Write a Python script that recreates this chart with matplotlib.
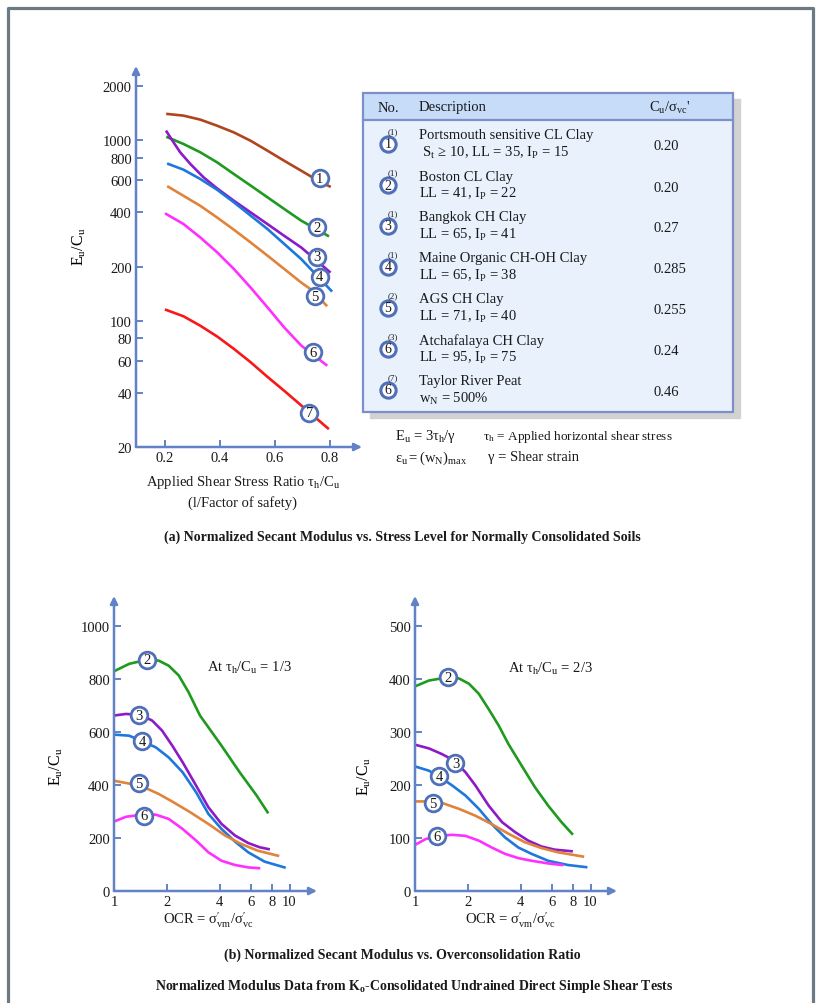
import numpy as np
import matplotlib.pyplot as plt
from matplotlib.patches import Rectangle

plt.rcParams['font.family'] = ['Liberation Serif', 'DejaVu Serif']
plt.rcParams['mathtext.fontset'] = 'stix'

# ---- data (a): Eu/Cu vs tau_h/Cu, normally consolidated ----
ratio_1 = [0.209, 0.267, 0.328, 0.389, 0.45, 0.511, 0.572, 0.633, 0.695, 0.756, 0.798]
eu_1 = [1400, 1371, 1303, 1206, 1107, 995, 877, 771, 679, 598, 556]
ratio_2 = [0.209, 0.267, 0.328, 0.389, 0.45, 0.511, 0.572, 0.633, 0.695, 0.792]
eu_2 = [1040, 955, 859, 756, 651, 562, 484, 417, 359, 296]
ratio_3 = [0.206, 0.231, 0.255, 0.292, 0.34, 0.389, 0.45, 0.511, 0.572, 0.633, 0.695, 0.798]
eu_3 = [1117, 975, 859, 740, 624, 542, 463, 399, 344, 296, 255, 187]
ratio_4 = [0.212, 0.267, 0.328, 0.389, 0.45, 0.511, 0.572, 0.633, 0.695, 0.804]
eu_4 = [740, 688, 611, 533, 454, 383, 323, 267, 220, 147]
ratio_5 = [0.212, 0.267, 0.328, 0.389, 0.45, 0.511, 0.572, 0.633, 0.695, 0.731, 0.786]
eu_5 = [553, 493, 434, 374, 320, 272, 230, 194, 163, 149, 122]
ratio_6 = [0.204, 0.267, 0.328, 0.389, 0.45, 0.511, 0.572, 0.633, 0.695, 0.786]
eu_6 = [391, 344, 290, 240, 194, 153, 119, 92, 73, 57]
ratio_7 = [0.204, 0.267, 0.328, 0.389, 0.45, 0.511, 0.572, 0.633, 0.695, 0.792]
eu_7 = [115, 106, 94, 82, 70, 59, 49, 41, 34, 25.4]
curves_a = [(ratio_1, eu_1), (ratio_2, eu_2), (ratio_3, eu_3), (ratio_4, eu_4),
            (ratio_5, eu_5), (ratio_6, eu_6), (ratio_7, eu_7)]
colors_a = ['#b0441c', '#1e9a1e', '#8c1ac8', '#1e78dc', '#e0843c', '#ff30ff', '#f81818']
lab_a_x = [0.762, 0.753, 0.752, 0.762, 0.746, 0.737, 0.725]
lab_a_y = [618, 330, 227, 176, 137, 67, 31]

# ---- data (b): Eu/Cu vs OCR ----
ocr_l2 = [1.0, 1.22, 1.55, 1.8, 2.05, 2.34, 2.66, 3.09, 4.1, 5.2, 6.5, 7.5]
eu_l2 = [829, 857, 873, 869, 850, 813, 750, 662, 548, 448, 360, 297]
ocr_l3 = [1.0, 1.17, 1.42, 1.65, 1.88, 2.15, 2.46, 2.94, 3.45, 4.1, 4.9, 5.82, 6.76, 7.6]
eu_l3 = [662, 668, 664, 643, 605, 548, 486, 397, 316, 253, 209, 181, 165, 158]
ocr_l4 = [1.0, 1.22, 1.45, 1.73, 2.05, 2.46, 2.94, 3.45, 4.1, 4.9, 5.82, 7.2, 9.36]
eu_l4 = [590, 586, 565, 542, 504, 448, 372, 291, 234, 186, 146, 111, 89]
ocr_l5 = [1.0, 1.42, 1.8, 2.18, 2.72, 3.45, 4.3, 5.32, 6.6, 8.6]
eu_l5 = [416, 397, 366, 335, 297, 253, 209, 177, 152, 133]
ocr_l6 = [1.0, 1.17, 1.45, 1.73, 2.05, 2.46, 2.94, 3.45, 4.1, 4.9, 5.82, 6.7]
eu_l6 = [262, 280, 288, 288, 272, 234, 190, 146, 114, 98, 89, 86]

ocr_r2 = [1.0, 1.2, 1.53, 1.78, 2.03, 2.31, 2.63, 3.0, 3.41, 4.06, 4.82, 5.74, 6.83, 7.85]
eu_r2 = [386, 397, 403, 401, 391, 372, 343, 312, 277, 236, 196, 161, 130, 108]
ocr_r3 = [1.0, 1.2, 1.43, 1.67, 1.94, 2.21, 2.63, 3.13, 3.72, 4.42, 5.25, 6.25, 7.8]
eu_r3 = [276, 269, 258, 246, 224, 199, 161, 130, 111, 95, 84, 78, 75]
ocr_r4 = [1.0, 1.2, 1.4, 1.63, 1.94, 2.31, 2.74, 3.26, 3.88, 4.62, 5.74, 7.45, 9.44]
eu_r4 = [235, 227, 214, 199, 180, 155, 126, 101, 82, 70, 57, 49, 45]
ocr_r5 = [1.0, 1.2, 1.43, 1.78, 2.21, 2.74, 3.41, 4.23, 5.25, 6.53, 9.05]
eu_r5 = [169, 169, 166, 155, 142, 126, 108, 92, 81, 73, 65]
ocr_r6 = [1.0, 1.15, 1.37, 1.63, 1.94, 2.31, 2.74, 3.26, 3.88, 4.62, 5.74, 6.88]
eu_r6 = [87, 98, 104, 106, 104, 95, 82, 70, 62, 57, 52, 49]

colors_b = ['#1e9a1e', '#8c1ac8', '#1e78dc', '#e0843c', '#ff30ff']
nums_b = ['2', '3', '4', '5', '6']
curves_l = [(ocr_l2, eu_l2), (ocr_l3, eu_l3), (ocr_l4, eu_l4), (ocr_l5, eu_l5), (ocr_l6, eu_l6)]
lab_l_x = [1.55, 1.39, 1.45, 1.39, 1.48]
lab_l_y = [873, 664, 565, 406, 284]
curves_r = [(ocr_r2, eu_r2), (ocr_r3, eu_r3), (ocr_r4, eu_r4), (ocr_r5, eu_r5), (ocr_r6, eu_r6)]
lab_r_x = [1.55, 1.70, 1.37, 1.27, 1.34]
lab_r_y = [403, 241, 216, 166, 103]

# ---- table ----
tbl_nums = ['1', '2', '3', '4', '5', '6', '6']
tbl_refs = ['(1)', '(1)', '(1)', '(1)', '(2)', '(3)', '(7)']
tbl_line1 = ['Portsmouth sensitive CL Clay', 'Boston CL Clay', 'Bangkok CH Clay',
             'Maine Organic CH-OH Clay', 'AGS CH Clay', 'Atchafalaya CH Clay', 'Taylor River Peat']
tbl_line2 = [r' $\mathregular{S_t}$ ≥ 10, LL = 35, $\mathregular{I_P}$ = 15',
             r'LL = 41, $\mathregular{I_P}$ = 22', r'LL = 65, $\mathregular{I_P}$ = 41',
             r'LL = 65, $\mathregular{I_P}$ = 38', r'LL = 71, $\mathregular{I_P}$ = 40',
             r'LL = 95, $\mathregular{I_P}$ = 75', r'$\mathregular{w_N}$ = 500%']
tbl_cu = ['0.20', '0.20', '0.27', '0.285', '0.255', '0.24', '0.46']

AX = '#6282c6'
CIRC = '#4f6fb8'
TXT = '#1a1a1a'
W, H = 816, 1004

fig = plt.figure(figsize=(8.16, 10.04), dpi=100)


def box(l, t, r, b):
    return [l / W, 1 - b / H, (r - l) / W, (b - t) / H]


bg = fig.add_axes([0, 0, 1, 1])
bg.set_xlim(0, W)
bg.set_ylim(H, 0)
bg.axis('off')
bg.plot([7.5, 7.5, 812.5, 812.5], [H + 5, 8.5, 8.5, H + 5], color='#6e7a82', lw=2.3)


def style(ax):
    for s in ax.spines.values():
        s.set_visible(False)
    ax.patch.set_alpha(0)
    ax.annotate('', xy=(0, 1), xytext=(0, 0), xycoords='axes fraction', annotation_clip=False,
                arrowprops=dict(arrowstyle='-|>', color=AX, lw=1.8, mutation_scale=11, shrinkA=0, shrinkB=0))
    ax.annotate('', xy=(1, 0), xytext=(0, 0), xycoords='axes fraction', annotation_clip=False,
                arrowprops=dict(arrowstyle='-|>', color=AX, lw=1.8, mutation_scale=11, shrinkA=0, shrinkB=0))
    ax.tick_params(direction='in', color=AX, width=1.4, length=5, labelsize=10.5,
                   labelcolor=TXT, pad=3)
    ax.minorticks_off()


def circ(ax, x, y, n, ms=12):
    ax.plot(x, y, 'o', ms=ms, mfc='white', mec=CIRC, mew=2, zorder=5, clip_on=False)
    ax.text(x, y, n, ha='center', va='center', fontsize=10.5, color=TXT, zorder=6)


# ---- (a) ----
ax1 = fig.add_axes(box(136, 67, 362, 448))
ax1.set_yscale('log')
ax1.set_xlim(0.0945, 0.916)
ax1.set_ylim(20, 2582)
style(ax1)
ax1.set_yticks([20, 40, 60, 80, 100, 200, 400, 600, 800, 1000, 2000])
ax1.set_yticklabels(['20', '40', '60', '80', '100', '200', '400', '600', '800', '1000', '2000'])
ax1.minorticks_off()
ax1.set_xticks([0.2, 0.4, 0.6, 0.8])
ax1.set_xticklabels(['0.2', '0.4', '0.6', '0.8'])
for (x, y), c in zip(curves_a, colors_a):
    ax1.plot(x, y, color=c, lw=1.9)
for i in range(7):
    circ(ax1, lab_a_x[i], lab_a_y[i], str(i + 1))
ax1.set_ylabel(r'$\mathregular{E_u/C_u}$', fontsize=11.5)
ax1.yaxis.set_label_coords((88 - 136) / 226, (448 - 247) / 381)
bg.text(243, 483, r'Applied Shear Stress Ratio $\mathregular{τ_h/C_u}$', ha='center', va='center',
        fontsize=10.5, color=TXT)
bg.text(243, 503, '(l/Factor of safety)', ha='center', va='center', fontsize=10.5, color=TXT)

# table
bg.add_patch(Rectangle((370, 100), 370, 319, color='#d2d2d2', zorder=1))
bg.add_patch(Rectangle((363, 121), 370, 292, facecolor='#e8f1fc', edgecolor='none', zorder=2))
bg.add_patch(Rectangle((363, 94), 370, 27, facecolor='#c6dcf8', edgecolor='none', zorder=2))
bg.add_patch(Rectangle((363, 94), 370, 319, fill=False, edgecolor='#7d8ec8', lw=1.6, zorder=3))
bg.plot([363, 733], [121, 121], color='#7d8ec8', lw=1.6, zorder=3)
bg.text(378, 109, 'No.', va='center', fontsize=10.5, color=TXT, zorder=4)
bg.text(419, 108, 'Description', va='center', fontsize=10.5, color=TXT, zorder=4)
bg.text(649, 108, r"$\mathregular{C_u/σ_{vc}}$'", va='center', fontsize=10.5, color=TXT, zorder=4)
for i in range(7):
    yc = 145 + 41 * i
    bg.plot(388, yc, 'o', ms=11, mfc='white', mec=CIRC, mew=2.2, zorder=4)
    bg.text(388, yc, tbl_nums[i], ha='center', va='center', fontsize=10, color=TXT, zorder=5)
    bg.text(393, yc - 13, tbl_refs[i], ha='center', va='center', fontsize=6.5, color=TXT, zorder=5)
    bg.text(419, yc - 9, tbl_line1[i], va='center', fontsize=10.5, color=TXT, zorder=4)
    bg.text(419, yc + 8, tbl_line2[i], va='center', fontsize=10.5, color=TXT, zorder=4)
    bg.text(653, yc + 2, tbl_cu[i], va='center', fontsize=10.5, color=TXT, zorder=4)

bg.text(395, 437, r'$\mathregular{E_u}$ = 3$\mathregular{τ_h}$/γ', va='center', fontsize=10.5, color=TXT)
bg.text(483, 437, r'$\mathregular{τ_h}$ = Applied horizontal shear stress', va='center', fontsize=9.5, color=TXT)
bg.text(395, 458, r'$\mathregular{ε_u = (w_N)_{max}}$', va='center', fontsize=10.5, color=TXT)
bg.text(488, 458, 'γ = Shear strain', va='center', fontsize=10.5, color=TXT)

bg.text(402, 537, '(a) Normalized Secant Modulus vs. Stress Level for Normally Consolidated Soils',
        ha='center', va='center', fontsize=10, fontweight='bold', color=TXT)


# ---- (b) ----
def ocr_axes(rect, ytop, yticks, curves, lx, ly, note, note_xy, ylab_xy, xlab_x):
    ax = fig.add_axes(box(*rect))
    ax.set_xscale('log')
    ax.set_xlim(1, 10 ** ((rect[2] - rect[0]) / 175.5))
    ax.set_ylim(0, ytop)
    style(ax)
    ax.set_xticks([1, 2, 4, 6, 8, 10])
    ax.set_xticklabels(['1', '2', '4', '6', '8', '10'])
    ax.set_yticks(yticks)
    ax.set_yticklabels([str(v) for v in yticks])
    ax.minorticks_off()
    for (x, y), c in zip(curves, colors_b):
        ax.plot(x, y, color=c, lw=1.9)
    for i in range(5):
        circ(ax, lx[i], ly[i], nums_b[i])
    ax.set_ylabel(r'$\mathregular{E_u/C_u}$', fontsize=11.5)
    ax.yaxis.set_label_coords((ylab_xy[0] - rect[0]) / (rect[2] - rect[0]),
                              (rect[3] - ylab_xy[1]) / (rect[3] - rect[1]))
    bg.text(note_xy[0], note_xy[1], note, va='center', fontsize=10.5, color=TXT)
    bg.text(xlab_x, 920, r"OCR = $\mathregular{σ^{\prime}_{vm}/σ^{\prime}_{vc}}$", ha='center', va='center',
            fontsize=10.5, color=TXT)
    return ax


ocr_axes((114, 597, 317, 892), 1113, [0, 200, 400, 600, 800, 1000], curves_l, lab_l_x, lab_l_y,
         r'At $\mathregular{τ_h/C_u}$ = 1/3', (207, 668), (65, 767), 208)
ocr_axes((415, 597, 617, 892), 556.5, [0, 100, 200, 300, 400, 500], curves_r, lab_r_x, lab_r_y,
         r'At $\mathregular{τ_h/C_u}$ = 2/3', (508, 669), (373, 777), 510)

bg.text(402, 955, '(b) Normalized Secant Modulus vs. Overconsolidation Ratio',
        ha='center', va='center', fontsize=10, fontweight='bold', color=TXT)
bg.text(414, 987, r'Normalized Modulus Data from $\mathregular{K_o}$-Consolidated Undrained Direct Simple Shear Tests',
        ha='center', va='center', fontsize=10, fontweight='bold', color=TXT)

fig.savefig('out.png', dpi=100)
